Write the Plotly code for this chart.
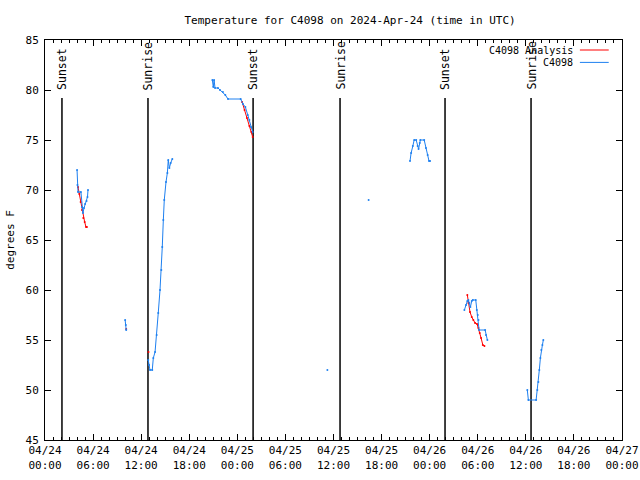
import plotly.graph_objects as go

# ---- data ----
obs_time = [
    "2024-04-24 04:00", "2024-04-24 04:03", "2024-04-24 04:07", "2024-04-24 04:29", "2024-04-24 04:37",
    "2024-04-24 04:44", "2024-04-24 04:52", "2024-04-24 05:00", "2024-04-24 05:11", "2024-04-24 05:18",
    "2024-04-24 05:22", None,
    "2024-04-24 10:00", "2024-04-24 10:05", "2024-04-24 10:08", None,
    "2024-04-24 12:53", "2024-04-24 12:59", "2024-04-24 13:06", "2024-04-24 13:23", "2024-04-24 13:31",
    "2024-04-24 13:44", "2024-04-24 13:56", "2024-04-24 14:08", "2024-04-24 14:21", "2024-04-24 14:31",
    "2024-04-24 14:38", "2024-04-24 14:46", "2024-04-24 14:53", "2024-04-24 15:06", "2024-04-24 15:16",
    "2024-04-24 15:23", "2024-04-24 15:31", "2024-04-24 15:41", "2024-04-24 15:53", None,
    "2024-04-24 20:53", "2024-04-24 21:00", "2024-04-24 21:06", "2024-04-24 21:13", "2024-04-24 21:35",
    "2024-04-24 21:50", "2024-04-24 22:12", "2024-04-24 22:30", "2024-04-24 22:50", "2024-04-25 00:25",
    "2024-04-25 00:42", "2024-04-25 01:00", "2024-04-25 01:18", "2024-04-25 01:30", "2024-04-25 01:42",
    "2024-04-25 01:55", None,
    "2024-04-25 11:14", None,
    "2024-04-25 16:23", None,
    "2024-04-25 21:33", "2024-04-25 21:41", "2024-04-25 21:54", "2024-04-25 22:04", "2024-04-25 22:19",
    "2024-04-25 22:30", "2024-04-25 22:37", "2024-04-25 22:46", "2024-04-25 22:50", "2024-04-25 23:19",
    "2024-04-25 23:32", "2024-04-25 23:45", "2024-04-25 23:55", "2024-04-26 00:03", None,
    "2024-04-26 04:20", "2024-04-26 04:32", "2024-04-26 04:42", "2024-04-26 04:50", "2024-04-26 04:57",
    "2024-04-26 05:05", "2024-04-26 05:15", "2024-04-26 05:23", "2024-04-26 05:45", "2024-04-26 05:53",
    "2024-04-26 06:00", "2024-04-26 06:05", "2024-04-26 06:10", "2024-04-26 06:55", "2024-04-26 07:02",
    "2024-04-26 07:12", None,
    "2024-04-26 12:11", "2024-04-26 12:19", "2024-04-26 13:17", "2024-04-26 13:26", "2024-04-26 13:34",
    "2024-04-26 13:41", "2024-04-26 13:49", "2024-04-26 13:56", "2024-04-26 14:04", "2024-04-26 14:11",
]
obs_temp = [
    72.0, 70.5, 69.8, 69.8, 68.3, 67.7, 68.2, 68.6, 68.9, 69.3, 70.0, None,
    57.0, 56.5, 56.0, None,
    53.0, 52.5, 52.0, 52.0, 53.2, 53.8, 55.5, 57.7, 60.0, 62.0, 64.3, 67.0, 69.0, 70.8, 71.7,
    73.0, 72.2, 72.7, 73.1, None,
    81.0, 80.3, 81.0, 80.2, 80.2, 80.0, 79.8, 79.5, 79.1, 79.1, 78.6, 78.3, 77.5, 77.0, 76.3, 75.8, None,
    52.0, None,
    69.0, None,
    72.9, 73.7, 74.4, 75.0, 75.0, 74.4, 74.1, 74.7, 75.0, 75.0, 74.2, 73.5, 72.9, 72.9, None,
    58.0, 58.5, 58.9, 59.0, 58.7, 58.3, 58.9, 59.0, 59.0, 58.0, 57.5, 57.0, 56.0, 56.0, 55.5, 55.0, None,
    50.0, 49.0, 49.0, 50.0, 50.8, 52.0, 53.2, 54.0, 54.5, 55.0,
]

ana_time = [
    "2024-04-24 04:07", "2024-04-24 04:17", "2024-04-24 04:27", "2024-04-24 04:37", "2024-04-24 04:47",
    "2024-04-24 04:57", "2024-04-24 05:07", "2024-04-24 05:14", None,
    "2024-04-24 10:08", None,
    "2024-04-24 12:55", None,
    "2024-04-25 00:36", "2024-04-25 00:54", "2024-04-25 01:12", "2024-04-25 01:30", "2024-04-25 01:45",
    "2024-04-25 01:55", None,
    "2024-04-26 04:42", "2024-04-26 04:50", "2024-04-26 05:02", "2024-04-26 05:15", "2024-04-26 05:27",
    "2024-04-26 05:40", "2024-04-26 05:55", "2024-04-26 06:05", "2024-04-26 06:15", "2024-04-26 06:25",
    "2024-04-26 06:38", "2024-04-26 06:50",
]
ana_temp = [
    70.3, 69.6, 68.8, 68.0, 67.2, 66.8, 66.3, 66.3, None,
    56.1, None,
    53.8, None,
    78.8, 78.0, 77.2, 76.4, 75.8, 75.3, None,
    59.5, 58.7, 57.8, 57.3, 57.0, 56.7, 56.6, 56.2, 55.7, 55.2, 54.5, 54.4,
]

sun_time = ["2024-04-24 02:07", "2024-04-24 12:51", "2024-04-25 01:58",
            "2024-04-25 12:49", "2024-04-26 01:55", "2024-04-26 12:39"]
sun_label = ["Sunset", "Sunrise", "Sunset", "Sunrise", "Sunset", "Sunrise"]

series_names = ["C4098 Analysis", "C4098"]
series_colors = ["#ff0000", "#1e80f0"]

x_range = ["2024-04-24 00:00", "2024-04-27 00:00"]
y_range = [45, 85]

FONT = "DejaVu Sans Mono"

fig = go.Figure()
fig.add_trace(go.Scatter(x=ana_time, y=ana_temp, mode="lines+markers", connectgaps=False,
                         line=dict(color=series_colors[0], width=1),
                         marker=dict(size=2, color=series_colors[0]),
                         name=series_names[0], showlegend=False, hoverinfo="skip"))
fig.add_trace(go.Scatter(x=obs_time, y=obs_temp, mode="lines+markers", connectgaps=False,
                         line=dict(color=series_colors[1], width=1),
                         marker=dict(size=2, color=series_colors[1]),
                         name=series_names[1], showlegend=False, hoverinfo="skip"))

for t, lab in zip(sun_time, sun_label):
    fig.add_shape(type="line", x0=t, x1=t, y0=45, y1=79.2, xref="x", yref="y",
                  line=dict(color="black", width=1.5), layer="below")
    fig.add_annotation(x=t, y=79.8, xref="x", yref="y", text=lab, showarrow=False,
                       textangle=-90, yanchor="bottom",
                       font=dict(family=FONT, size=11.5, color="black"))

# legend (gnuplot style: text then line sample)
for i, (nm, col) in enumerate(zip(series_names, series_colors)):
    yy = 0.975 - i * 0.031
    fig.add_annotation(x=0.918, y=yy, xref="paper", yref="paper", text=nm, showarrow=False,
                       xanchor="right", yanchor="middle",
                       font=dict(family=FONT, size=10, color="black"))
    fig.add_shape(type="line", x0=0.927, x1=0.977, y0=yy, y1=yy, xref="paper", yref="paper",
                  line=dict(color=col, width=1))

fig.update_layout(
    width=640, height=480,
    margin=dict(l=45, r=18, t=40, b=40),
    paper_bgcolor="white", plot_bgcolor="white",
    font=dict(family=FONT, size=11, color="black"),
    title=dict(text="Temperature for C4098 on 2024-Apr-24 (time in UTC)", x=0.547, xanchor="center",
               xref="container", yref="container", y=0.958, yanchor="middle",
               font=dict(family=FONT, size=11)),
    showlegend=False,
)
fig.update_xaxes(type="date", range=x_range, dtick=6 * 3600 * 1000, tick0="2024-04-24 00:00",
                 tickformat="%m/%d<br>%H:%M", ticks="inside", ticklen=6, tickcolor="black",
                 minor=dict(dtick=3600 * 1000, ticks="inside", ticklen=3, tickcolor="black"),
                 showline=True, linecolor="black", linewidth=1, mirror="ticks", showgrid=False,
                 zeroline=False, tickfont=dict(family=FONT, size=11), automargin=False)
fig.update_yaxes(range=y_range, dtick=5, ticks="inside", ticklen=6, tickcolor="black",
                 showline=True, linecolor="black", linewidth=1, mirror="ticks", showgrid=False,
                 zeroline=False, title=dict(text="degrees F", standoff=8, font=dict(family=FONT, size=11)),
                 ticklabelstandoff=3,
                 tickfont=dict(family=FONT, size=11), automargin=False)

fig.write_html("out.html", config={"displayModeBar": False},
               post_script="document.body.style.margin='0';document.body.style.overflow='hidden';")
